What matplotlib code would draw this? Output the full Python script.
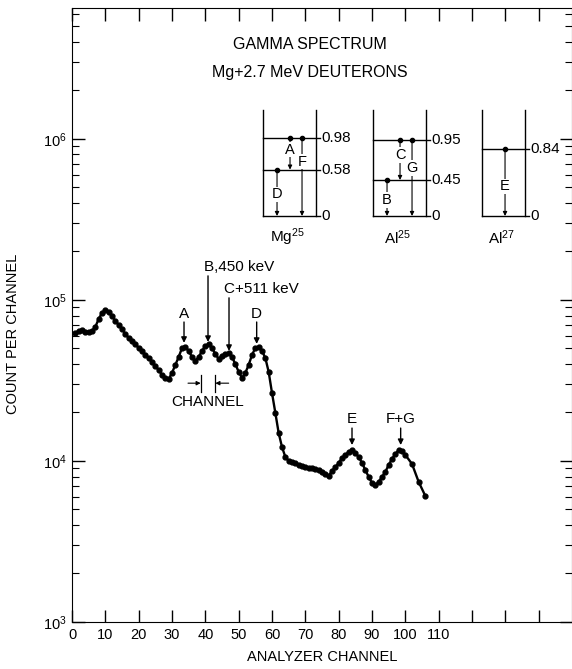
import matplotlib
matplotlib.use("Agg")
import matplotlib.pyplot as plt
from matplotlib.ticker import LogLocator, NullFormatter

plt.rcParams['font.family'] = ['Liberation Sans', 'DejaVu Sans']
plt.rcParams['mathtext.default'] = 'regular'

# spectrum (one point per analyzer channel)
channels = list(range(1, 101)) + [102, 104, 106]
counts = [62400, 64200, 65100, 63300, 63300, 64200, 68000, 76200, 83000, 86700,
          84200, 79600, 74100, 70000, 66100, 61500, 58100, 55600, 53300, 50300,
          48200, 45500, 43600, 41200, 38900, 36700, 34200, 32800, 32300, 35200,
          39500, 44200, 50300, 51100, 48200, 44200, 41800, 44200, 48200, 51800,
          53300, 50300, 46200, 43000, 44900, 46200, 46900, 44200, 40000, 35700,
          32800, 35200, 39500, 45500, 50300, 51100, 48200, 43600, 35700, 26400,
          19900, 14900, 12200, 10590, 10000, 9790, 9650, 9440, 9310, 9180,
          9050, 8980, 8920, 8790, 8550, 8300, 8070, 8670, 9180, 9720,
          10440, 10900, 11380, 11700, 11220, 10590, 9720, 8790, 7960, 7300,
          7100, 7410, 7960, 8550, 9440, 10290, 11050, 11700, 11540, 10900,
          9580, 7410, 6060]

# peak markers: label, channel, label y, arrow start y, arrow tip y
peak_names = ['A', 'D', 'E', 'F+G']
peak_ch = [33.6, 55.4, 84.0, 98.6]
peak_label_y = [81900, 81900, 18200, 18200]
peak_arrow_from = [72900, 72900, 16000, 16000]
peak_arrow_to = [54100, 53300, 12550, 12550]

# level schemes (MeV)
nuclides = ['Mg$^{25}$', 'Al$^{25}$', 'Al$^{27}$']
levels = [[0.98, 0.58, 0], [0.95, 0.45, 0], [0.84, 0]]
level_text = [['0.98', '0.58', '0'], ['0.95', '0.45', '0'], ['0.84', '0']]
# transitions: letter, from level, to level
transitions = [[('A', 0.98, 0.58), ('F', 0.98, 0), ('D', 0.58, 0)],
               [('C', 0.95, 0.45), ('G', 0.95, 0), ('B', 0.45, 0)],
               [('E', 0.84, 0)]]

# layout for the level diagrams (overlay x in pixels)
box_left = [263, 373, 482]
box_right = [316, 426, 525]
trans_x = [[290, 302, 277], [400, 412, 387], [505]]
trans_label_e = [[0.83, 0.68, 0.27], [0.76, 0.6, 0.2], [0.37]]

fig = plt.figure(figsize=(5.72, 6.69), dpi=100)
ax = fig.add_axes([0.1259, 0.0703, 0.8741, 0.9178])

ax.plot(channels, counts, '-o', color='black', lw=1.7, ms=3.5)
ax.set_yscale('log')
ax.set_ylim(1e3, 6.5e6)
ax.set_xlim(0, 150)

ax.set_xticks(range(0, 150, 10))
ax.set_xticklabels([str(v) if v <= 110 else '' for v in range(0, 150, 10)], fontsize=10.5)
ax.set_yticks([1e3, 1e4, 1e5, 1e6])
ax.set_yticklabels([r'$10^3$', r'$10^4$', r'$10^5$', r'$10^6$'], fontsize=10.5)
ax.yaxis.set_minor_locator(LogLocator(base=10, subs=range(2, 10)))
ax.yaxis.set_minor_formatter(NullFormatter())
ax.tick_params(which='both', direction='in', top=True, right=True)
ax.tick_params(which='major', length=9, width=1, pad=4)
ax.tick_params(which='minor', length=5, width=0.8)

ax.set_xlabel('ANALYZER CHANNEL', fontsize=10.5, labelpad=6)
ax.set_ylabel('COUNT PER CHANNEL', fontsize=10.5, labelpad=8)
ax.yaxis.set_label_coords(-0.105, 0.47)

arrow = dict(arrowstyle='-|>', color='black', lw=1, mutation_scale=8, shrinkA=0, shrinkB=0)

for name, ch, ly, y0, y1 in zip(peak_names, peak_ch, peak_label_y, peak_arrow_from, peak_arrow_to):
    ax.text(ch, ly, name, ha='center', va='center', fontsize=11)
    ax.annotate('', xy=(ch, y1), xytext=(ch, y0), arrowprops=arrow)

ax.text(39.5, 160000, 'B,450 keV', ha='left', va='center', fontsize=11)
ax.annotate('', xy=(40.8, 54800), xytext=(40.8, 141000), arrowprops=arrow)
ax.text(45.5, 117000, 'C+511 keV', ha='left', va='center', fontsize=11)
ax.annotate('', xy=(47.1, 48200), xytext=(47.1, 103000), arrowprops=arrow)

# channel width marker
ax.plot([38.6, 38.6], [26900, 34200], color='black', lw=0.9)
ax.plot([43.0, 43.0], [26900, 34200], color='black', lw=0.9)
ax.annotate('', xy=(38.6, 30400), xytext=(34.8, 30400), arrowprops=dict(arrow, mutation_scale=6, lw=0.8))
ax.annotate('', xy=(43.0, 30400), xytext=(47.0, 30400), arrowprops=dict(arrow, mutation_scale=6, lw=0.8))
ax.text(40.6, 23300, 'CHANNEL', ha='center', va='center', fontsize=11)

fig.text(0.542, 0.933, 'GAMMA SPECTRUM', ha='center', va='center', fontsize=11.5)
fig.text(0.542, 0.891, 'Mg+2.7 MeV DEUTERONS', ha='center', va='center', fontsize=11.5)

# level diagrams
ax2 = fig.add_axes([0.4371, 0.6263, 0.5245, 0.2242])
ax2.set_xlim(250, 550)
ax2.set_ylim(-0.425, 1.45)
ax2.axis('off')

for i in range(3):
    l, r = box_left[i], box_right[i]
    ax2.plot([l, l], [0, 1.325], color='black', lw=1)
    ax2.plot([r, r], [0, 1.325], color='black', lw=1)
    for e, t in zip(levels[i], level_text[i]):
        ax2.plot([l, r + 4], [e, e], color='black', lw=1)
        ax2.text(r + 5, e, t, ha='left', va='center', fontsize=11)
    for (letter, e0, e1), x, le in zip(transitions[i], trans_x[i], trans_label_e[i]):
        ax2.plot([x], [e0], 'o', color='black', ms=3)
        ax2.annotate('', xy=(x, e1), xytext=(x, e0),
                     arrowprops=dict(arrowstyle='-|>', color='black', lw=0.8,
                                     mutation_scale=6, shrinkA=0, shrinkB=0))
        ax2.text(x, le, letter, ha='center', va='center', fontsize=10.5, zorder=5,
                 bbox=dict(facecolor='white', edgecolor='none', pad=0.6))
    ax2.text((l + r) / 2 - 2, -0.27, nuclides[i], ha='center', va='center', fontsize=11)

fig.savefig('out.png', dpi=100)
